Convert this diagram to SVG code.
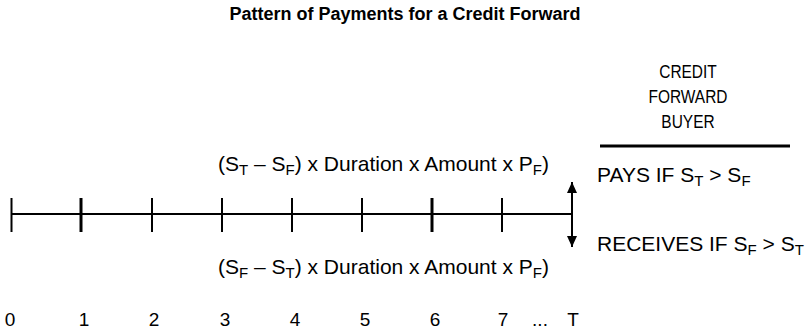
<svg xmlns="http://www.w3.org/2000/svg" width="808" height="331" viewBox="0 0 808 331">
<defs>
<style>
.t{font-family:"Liberation Sans",Arial,sans-serif;font-size:21px;fill:#000}
.h{font-family:"Liberation Sans",Arial,sans-serif;font-size:18px;fill:#000;text-anchor:middle}
.d{font-family:"Liberation Sans",Arial,sans-serif;font-size:19px;fill:#000;text-anchor:middle}
.title{font-family:"Liberation Sans",Arial,sans-serif;font-size:18px;font-weight:bold;fill:#000;text-anchor:middle}
.sub{font-size:15px}
.ln{stroke:#000;stroke-width:2;fill:none}
.tk{stroke:#000;stroke-width:2}
.tkb{stroke:#000;stroke-width:3}
</style>
<marker id="ah" viewBox="0 0 11 10" refX="11" refY="5" markerWidth="11" markerHeight="10" markerUnits="userSpaceOnUse" orient="auto">
<path d="M0,0 L11,5 L0,10 z" fill="#000"/>
</marker>
</defs>
<rect width="808" height="331" fill="#fff"/>
<text id="title" class="title" x="405" y="20">Pattern of Payments for a Credit Forward</text>
<g id="buyer-header">
<text class="h" transform="translate(688,78) scale(0.86,1)">CREDIT</text>
<text class="h" transform="translate(688,103) scale(0.86,1)">FORWARD</text>
<text class="h" transform="translate(688,128) scale(0.86,1)">BUYER</text>
<line x1="600" y1="146" x2="790" y2="146" stroke="#000" stroke-width="3"/>
</g>
<g id="pays">
<text class="t" x="597" y="182">PAYS IF S<tspan class="sub" dy="4">T</tspan><tspan dy="-4"> &gt; S</tspan><tspan class="sub" dy="4">F</tspan></text>
</g>
<g id="receives">
<text class="t" x="597" y="251">RECEIVES IF S<tspan class="sub" dy="4">F</tspan><tspan dy="-4"> &gt; S</tspan><tspan class="sub" dy="4">T</tspan></text>
</g>
<g id="formula-top">
<text class="t" x="218" y="171">(S<tspan class="sub" dy="4">T</tspan><tspan dy="-4"> – S</tspan><tspan class="sub" dy="4">F</tspan><tspan dy="-4">) x Duration x Amount x P</tspan><tspan class="sub" dy="4">F</tspan><tspan dy="-4">)</tspan></text>
</g>
<g id="formula-bottom">
<text class="t" x="218" y="274">(S<tspan class="sub" dy="4">F</tspan><tspan dy="-4"> – S</tspan><tspan class="sub" dy="4">T</tspan><tspan dy="-4">) x Duration x Amount x P</tspan><tspan class="sub" dy="4">F</tspan><tspan dy="-4">)</tspan></text>
</g>
<g id="timeline">
<line class="ln" x1="11" y1="214" x2="572" y2="214"/>
<line class="tk" x1="11.5" y1="198" x2="11.5" y2="232"/>
<line class="tkb" x1="81" y1="198" x2="81" y2="232"/>
<line class="tk" x1="152" y1="198" x2="152" y2="232"/>
<line class="tk" x1="222" y1="198" x2="222" y2="232"/>
<line class="tk" x1="292" y1="198" x2="292" y2="232"/>
<line class="tk" x1="362" y1="198" x2="362" y2="232"/>
<line class="tkb" x1="432" y1="198" x2="432" y2="232"/>
<line class="tk" x1="502" y1="198" x2="502" y2="232"/>
</g>
<g id="connectors">
<line class="ln" x1="572" y1="214" x2="572" y2="182" marker-end="url(#ah)"/>
<line class="ln" x1="572" y1="214" x2="572" y2="247" marker-end="url(#ah)"/>
</g>
<g id="axis-labels">
<text class="d" x="10" y="326">0</text>
<text class="d" x="84" y="326">1</text>
<text class="d" x="154" y="326">2</text>
<text class="d" x="225" y="326">3</text>
<text class="d" x="295" y="326">4</text>
<text class="d" x="365" y="326">5</text>
<text class="d" x="435" y="326">6</text>
<text class="d" x="503" y="326">7</text>
<text class="d" x="540" y="326">...</text>
<text class="d" x="573" y="326">T</text>
</g>
</svg>
